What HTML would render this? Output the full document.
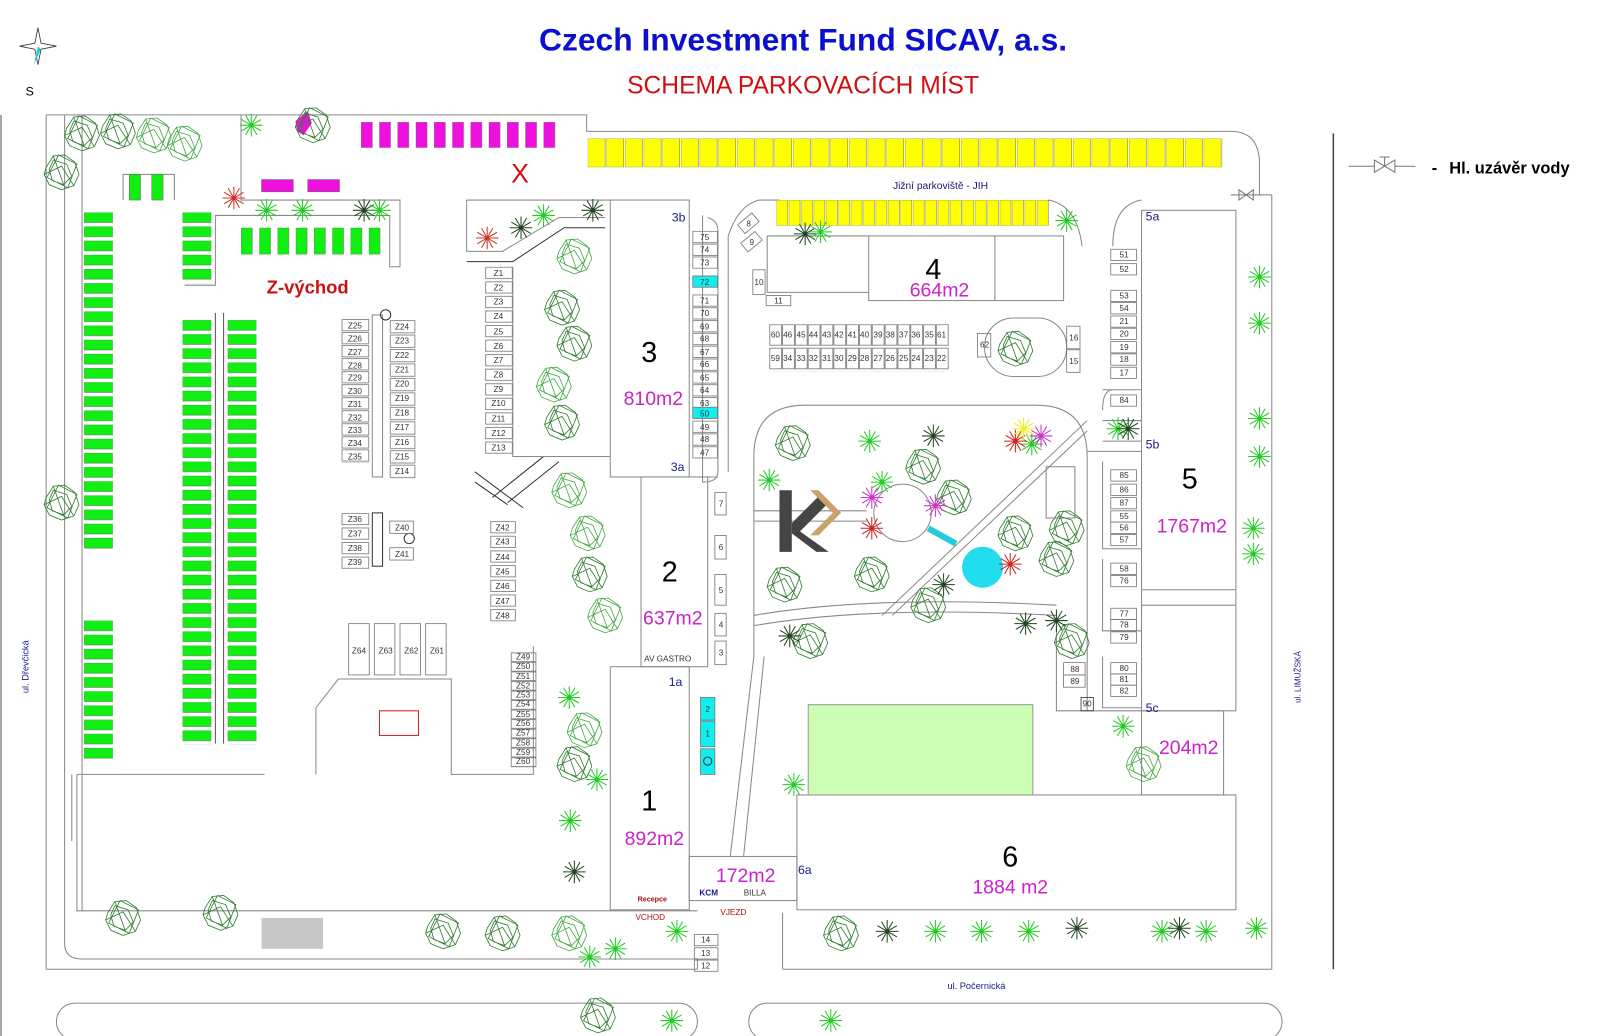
<!DOCTYPE html>
<html><head><meta charset="utf-8"><style>
html,body{margin:0;padding:0;background:#fff;}
svg{display:block;}
text{font-family:"Liberation Sans",sans-serif;}
.zl{font-size:28px;fill:#000;text-anchor:middle;}
.m2{font-size:19px;fill:#cc22cc;text-anchor:middle;}
.lb{font-size:12px;fill:#1a1a8c;}
</style></head><body>
<svg width="1600" height="1036" viewBox="0 0 1560 1010" xmlns="http://www.w3.org/2000/svg" xmlns:xlink="http://www.w3.org/1999/xlink">
<defs>
<pattern id="pgv" width="28" height="13.8" patternUnits="userSpaceOnUse"><rect x="0" y="0" width="28" height="10" fill="#11ee11" stroke="#666" stroke-width="0.5"/></pattern>
<pattern id="pgh" width="17.8" height="26" patternUnits="userSpaceOnUse"><rect x="0" y="0" width="11" height="26" fill="#11ee11" stroke="#666" stroke-width="0.5"/></pattern>
<pattern id="pm" width="17.8" height="25" patternUnits="userSpaceOnUse"><rect x="0" y="0" width="11" height="25" fill="#ee11dd" stroke="#666" stroke-width="0.5"/></pattern>
<pattern id="py1" width="18.2" height="28" patternUnits="userSpaceOnUse"><rect x="0" y="0" width="17" height="28" fill="#ffff00" stroke="#666" stroke-width="0.5"/></pattern>
<pattern id="py2" width="12.1" height="25" patternUnits="userSpaceOnUse"><rect x="0" y="0" width="11" height="25" fill="#ffff00" stroke="#666" stroke-width="0.5"/></pattern>
<pattern id="z142" width="27" height="14.2" patternUnits="userSpaceOnUse"><rect x="0.5" y="0.5" width="26" height="11" fill="none" stroke="#777" stroke-width="0.8"/></pattern>
<pattern id="z127" width="27" height="12.7" patternUnits="userSpaceOnUse"><rect x="0.5" y="0.5" width="26" height="11" fill="none" stroke="#777" stroke-width="0.8"/></pattern>
<pattern id="z141" width="25" height="14.1" patternUnits="userSpaceOnUse"><rect x="0.5" y="0.5" width="24" height="12" fill="none" stroke="#777" stroke-width="0.8"/></pattern>
<pattern id="z143" width="25" height="14.3" patternUnits="userSpaceOnUse"><rect x="0.5" y="0.5" width="24" height="11" fill="none" stroke="#777" stroke-width="0.8"/></pattern>
<pattern id="z93" width="25" height="9.3" patternUnits="userSpaceOnUse"><rect x="0.5" y="0.5" width="24" height="8.5" fill="none" stroke="#777" stroke-width="0.8"/></pattern>
<pattern id="zc" width="25" height="12.5" patternUnits="userSpaceOnUse"><rect x="0.5" y="0.5" width="24" height="11" fill="none" stroke="#777" stroke-width="0.8"/></pattern>
<pattern id="zr" width="12.5" height="23" patternUnits="userSpaceOnUse"><rect x="0.5" y="0.5" width="11.5" height="20" fill="none" stroke="#777" stroke-width="0.8"/></pattern>
<g id="T" fill="none" stroke-width="0.8"><path d="M-15-5L-8-16L3-17L13-10L17 2L12 13L0 17L-12 12L-17 2Z M-8-12L5-8L10 4L2 12L-9 8L-12-3Z M-3-17L-14 5L6 15L15-8Z M-17 2L0-6L12 13 M-8-16L2 12"/></g>
<g id="P" stroke-width="1"><path d="M-11 0H11M0-11V11M-9.5-5.5L9.5 5.5M-9.5 5.5L9.5-5.5M-5.5-9.5L5.5 9.5M-5.5 9.5L5.5-9.5"/></g>
</defs>
<rect width="1560" height="1010" fill="#fff"/>
<g fill="none" stroke="#888" stroke-width="1">
<line x1="1" y1="112" x2="1" y2="1010" stroke="#555"/>
<line x1="1300" y1="130" x2="1300" y2="945" stroke="#444" stroke-width="1.5"/>
<path d="M45 945 V112 H572 V128 H1200 Q1228 128 1228 160 V190 M1240 190 V945"/>
<path d="M63 112 V920 Q63 935 80 935 H680 V945"/>
<path d="M45 945 H680 M763 945 H1240 M763 945 V890"/>
<path d="M75 755 V888 H680 M70 755 V820 M75 755 H258"/>
<path d="M80 112 V888"/>
<rect x="55" y="978" width="625" height="36" rx="18"/>
<rect x="730" y="978" width="520" height="36" rx="18"/>
<path d="M235 112 V195 H390 V260 H380 V210 H210 V278 H180"/>
<path d="M120 195 V170 H170 V195"/>
<path d="M455 195 H595 M455 195 V245 H490 L545 212 H590"/>
<path d="M455 255 H500 L550 222 H590" stroke="#333"/>
<path d="M463 460 L510 495 M463 470 L495 492 M480 485 L530 445 M495 490 L545 450" stroke="#333"/>
<path d="M308 755 V690 L330 662 H440 V755 H520 V630"/>
<rect x="370" y="693" width="38" height="24" stroke="#c22"/>
<line x1="210" y1="305" x2="210" y2="725" stroke="#555"/>
<line x1="218" y1="305" x2="218" y2="725" stroke="#555"/>
<rect x="363" y="307" width="10" height="158"/>
<circle cx="376" cy="307" r="5" stroke="#333"/>
<rect x="363" y="500" width="10" height="52" stroke="#333"/>
<circle cx="399" cy="525" r="5" stroke="#333"/>
<path d="M500 260 V445 H595"/>
<rect x="595" y="195" width="77" height="270"/>
<rect x="625" y="465" width="65" height="185"/>
<rect x="595" y="650" width="77" height="237"/>
<rect x="672" y="835" width="105" height="43"/>
<rect x="777" y="775" width="428" height="112"/>
<rect x="1113" y="205" width="92" height="488"/>
<line x1="1113" y1="575" x2="1205" y2="575"/><line x1="1113" y1="590" x2="1205" y2="590"/>
<rect x="1113" y="693" width="80" height="82"/>
<rect x="847" y="230" width="190" height="63"/>
<line x1="970" y1="230" x2="970" y2="293"/>
<path d="M748 230 H847 M748 230 V285 H847"/>
<path d="M685 210 V470 Q700 470 700 460 V225 Q700 215 690 212"/>
<path d="M672 465 H700 M710 460 V230 Q720 200 740 195 H760 M1022 195 Q1050 200 1055 240"/>
<path d="M1113 195 Q1085 200 1085 240"/>
<rect x="960" y="310" width="80" height="57" rx="28"/>
<path d="M1075 380 H1113 M1075 400 Q1075 380 1085 380 M1075 410 H1113 M1075 430 H1113"/>
<path d="M1060 440 H1113 M1075 450 V535 H1113 M1075 545 V615 H1113 M1075 640 V690 H1113"/>
<path d="M735 640 V445 Q735 395 785 395 H1010 Q1060 395 1060 445 V640"/>
<path d="M735 610 Q850 590 1030 600 M735 600 Q850 580 1030 590"/>
<path d="M860 600 L1060 410 M870 600 L1060 420"/>
<path d="M735 498 H845 M735 508 H845"/>
<rect x="1020" y="455" width="28" height="50"/>
<circle cx="880" cy="500" r="28"/>
<path d="M1030 612 V693 H1113 M1060 640 V693"/>
<path d="M735 640 L712 835 M745 640 L725 835"/>
</g>
<rect x="788" y="687" width="219" height="88" fill="#ccffb3" stroke="#999"/>
<rect x="255" y="895" width="60" height="30" fill="#c8c8c8"/>
<circle cx="958" cy="553" r="20" fill="#22ddee"/>
<path d="M905 515 L932 530" stroke="#22ccdd" stroke-width="6"/>
<!-- parking -->
<rect transform="translate(82,207)" width="28" height="331" fill="url(#pgv)"/>
<rect transform="translate(82,605)" width="28" height="135" fill="url(#pgv)"/>
<rect transform="translate(178,207)" width="28" height="69" fill="url(#pgv)"/>
<rect transform="translate(178,312)" width="28" height="414" fill="url(#pgv)"/>
<rect transform="translate(222,312)" width="28" height="414" fill="url(#pgv)"/>
<rect x="126" y="170" width="11" height="25" fill="#11ee11" stroke="#666" stroke-width="0.5"/>
<rect x="148" y="170" width="11" height="25" fill="#11ee11" stroke="#666" stroke-width="0.5"/>
<rect transform="translate(235,222)" width="136" height="26" fill="url(#pgh)"/>
<rect transform="translate(352,119)" width="190" height="25" fill="url(#pm)"/>
<rect x="255" y="175" width="31" height="12" fill="#ee11dd" stroke="#666" stroke-width="0.5"/>
<rect x="300" y="175" width="31" height="12" fill="#ee11dd" stroke="#666" stroke-width="0.5"/>
<path d="M288 118 L300 108 L304 120 L296 132 L290 128 Z" fill="#ee11dd"/>
<rect transform="translate(573,135)" width="619" height="28" fill="url(#py1)"/>
<rect transform="translate(757,195)" width="266" height="25" fill="url(#py2)"/>
<!-- spot outlines -->
<rect transform="translate(473,260)" width="27" height="184" fill="url(#z142)"/>
<rect transform="translate(333,311)" width="27" height="140" fill="url(#z127)"/>
<rect transform="translate(380,312)" width="25" height="155" fill="url(#z141)"/>
<rect transform="translate(333,500)" width="27" height="56" fill="url(#z142)"/>
<rect transform="translate(478,508)" width="25" height="100" fill="url(#z143)"/>
<rect transform="translate(498,636)" width="25" height="112" fill="url(#z93)"/>
<rect transform="translate(675,225)" width="25" height="37" fill="url(#zc)"/>
<rect transform="translate(675,287)" width="25" height="112" fill="url(#zc)"/>
<rect transform="translate(675,410)" width="25" height="37" fill="url(#zc)"/>
<rect x="675.5" y="269" width="24" height="11" fill="#11eeee" stroke="#777" stroke-width="0.8"/>
<rect x="675.5" y="397" width="24" height="11" fill="#11eeee" stroke="#777" stroke-width="0.8"/>
<rect transform="translate(750,316)" width="175" height="46" fill="url(#zr)"/>
<g fill="none" stroke="#777" stroke-width="0.8">
<rect x="380" y="508" width="23" height="12"/><rect x="380" y="534" width="23" height="12"/>
<rect x="340" y="608" width="20" height="50"/><rect x="365" y="608" width="20" height="50"/><rect x="390" y="608" width="20" height="50"/><rect x="415" y="608" width="20" height="50"/>
<rect x="1083" y="243" width="25" height="11"/><rect x="1083" y="257" width="25" height="11"/><rect x="1083" y="283" width="25" height="11"/><rect x="1083" y="295" width="25" height="11"/><rect x="1083" y="308" width="25" height="11"/><rect x="1083" y="320" width="25" height="11"/><rect x="1083" y="333" width="25" height="11"/><rect x="1083" y="345" width="25" height="11"/><rect x="1083" y="358" width="25" height="11"/><rect x="1083" y="385" width="25" height="11"/>
<rect x="1083" y="458" width="25" height="11"/><rect x="1083" y="472" width="25" height="11"/><rect x="1083" y="485" width="25" height="11"/><rect x="1083" y="498" width="25" height="11"/><rect x="1083" y="509" width="25" height="11"/><rect x="1083" y="521" width="25" height="11"/><rect x="1083" y="549" width="25" height="11"/><rect x="1083" y="561" width="25" height="11"/><rect x="1083" y="593" width="25" height="11"/><rect x="1083" y="604" width="25" height="11"/><rect x="1083" y="616" width="25" height="11"/><rect x="1083" y="646" width="25" height="11"/><rect x="1083" y="657" width="25" height="11"/><rect x="1083" y="668" width="25" height="11"/>
<rect x="1040" y="318" width="13" height="22"/><rect x="1040" y="341" width="13" height="22"/><rect x="953" y="325" width="13" height="23"/>
<rect x="1037" y="646" width="21" height="12"/><rect x="1037" y="658" width="21" height="12"/><rect x="1054" y="680" width="12" height="13" stroke="#333"/>
<rect x="734" y="263" width="12" height="24"/><rect x="747" y="288" width="24" height="10"/>
<rect x="721" y="212" width="18" height="11" transform="rotate(-40 730 218)"/>
<rect x="724" y="230" width="18" height="11" transform="rotate(-40 733 236)"/>
<rect x="697" y="480" width="11" height="22"/><rect x="697" y="522" width="11" height="23"/><rect x="697" y="560" width="11" height="30"/><rect x="697" y="598" width="11" height="22"/><rect x="697" y="625" width="11" height="23"/>
<rect x="677" y="911" width="23" height="11"/><rect x="677" y="924" width="23" height="11"/><rect x="677" y="936" width="23" height="11"/>
</g>
<rect x="683" y="680" width="14" height="22" fill="#11eeee" stroke="#777" stroke-width="0.8"/>
<rect x="683" y="703" width="14" height="25" fill="#11eeee" stroke="#777" stroke-width="0.8"/>
<rect x="683" y="730" width="14" height="25" fill="#11eeee" stroke="#777" stroke-width="0.8"/>
<circle cx="690" cy="742" r="4" fill="none" stroke="#333"/>
<!-- trees -->
<g stroke="#2e7d2e">
<use href="#T" x="80" y="130"/><use href="#T" x="115" y="128"/><use href="#T" x="150" y="132" stroke="#44aa44"/><use href="#T" x="180" y="140" stroke="#44aa44"/><use href="#T" x="60" y="168"/><use href="#T" x="305" y="122"/>
<use href="#T" x="560" y="250" stroke="#44aa44"/><use href="#T" x="548" y="300"/><use href="#T" x="560" y="335"/><use href="#T" x="540" y="375" stroke="#44aa44"/><use href="#T" x="548" y="412"/><use href="#T" x="555" y="478" stroke="#44aa44"/><use href="#T" x="573" y="520" stroke="#44aa44"/><use href="#T" x="575" y="560"/><use href="#T" x="590" y="600" stroke="#44aa44"/><use href="#T" x="60" y="490"/>
<use href="#T" x="773" y="432"/><use href="#T" x="900" y="455"/><use href="#T" x="930" y="485"/><use href="#T" x="1040" y="515"/><use href="#T" x="1030" y="545"/><use href="#T" x="990" y="520"/><use href="#T" x="765" y="570"/><use href="#T" x="850" y="560"/><use href="#T" x="905" y="590"/><use href="#T" x="790" y="625"/><use href="#T" x="990" y="340"/><use href="#T" x="1115" y="745" stroke="#44aa44"/><use href="#T" x="1045" y="625"/>
<use href="#T" x="120" y="895"/><use href="#T" x="215" y="890"/><use href="#T" x="432" y="908"/><use href="#T" x="490" y="910"/><use href="#T" x="555" y="910" stroke="#44aa44"/><use href="#T" x="820" y="910"/><use href="#T" x="583" y="990"/><use href="#T" x="570" y="712" stroke="#44aa44"/><use href="#T" x="560" y="745"/>
</g>
<g stroke="#22cc22">
<use href="#P" x="245" y="122"/><use href="#P" x="260" y="205"/><use href="#P" x="295" y="205"/><use href="#P" x="355" y="205" stroke="#224422"/><use href="#P" x="370" y="205"/><use href="#P" x="508" y="222" stroke="#224422"/><use href="#P" x="530" y="210"/><use href="#P" x="578" y="205" stroke="#224422"/><use href="#P" x="785" y="228" stroke="#224422"/><use href="#P" x="800" y="226"/><use href="#P" x="1040" y="215"/>
<use href="#P" x="1228" y="270"/><use href="#P" x="1228" y="315"/><use href="#P" x="1228" y="408"/><use href="#P" x="1228" y="445"/><use href="#P" x="1222" y="515"/><use href="#P" x="1222" y="540"/>
<use href="#P" x="555" y="680"/><use href="#P" x="556" y="800"/><use href="#P" x="560" y="850" stroke="#224422"/><use href="#P" x="582" y="760"/><use href="#P" x="774" y="765"/><use href="#P" x="848" y="430"/><use href="#P" x="910" y="425" stroke="#224422"/><use href="#P" x="860" y="470"/><use href="#P" x="750" y="468"/>
<use href="#P" x="660" y="908"/><use href="#P" x="865" y="908" stroke="#224422"/><use href="#P" x="912" y="908"/><use href="#P" x="957" y="908"/><use href="#P" x="1003" y="908"/><use href="#P" x="1050" y="905" stroke="#224422"/><use href="#P" x="1133" y="908"/><use href="#P" x="1150" y="905" stroke="#224422"/><use href="#P" x="1176" y="908"/><use href="#P" x="1225" y="905"/>
<use href="#P" x="600" y="925"/><use href="#P" x="575" y="933"/><use href="#P" x="655" y="995"/><use href="#P" x="810" y="995"/><use href="#P" x="1095" y="708"/><use href="#P" x="1006" y="433"/><use href="#P" x="1000" y="608" stroke="#224422"/><use href="#P" x="1030" y="605" stroke="#224422"/><use href="#P" x="920" y="570" stroke="#224422"/><use href="#P" x="770" y="620" stroke="#224422"/><use href="#P" x="1090" y="418"/><use href="#P" x="1100" y="418" stroke="#224422"/>
<use href="#P" x="475" y="232" stroke="#cc3322"/><use href="#P" x="228" y="193" stroke="#cc3322"/><use href="#P" x="990" y="430" stroke="#cc2222"/><use href="#P" x="1015" y="425" stroke="#cc33cc"/><use href="#P" x="998" y="418" stroke="#eeee22"/><use href="#P" x="850" y="515" stroke="#cc2222"/><use href="#P" x="912" y="493" stroke="#cc33cc"/><use href="#P" x="985" y="550" stroke="#cc2222"/><use href="#P" x="850" y="485" stroke="#cc33cc"/>
</g>
<!-- logo -->
<path d="M760 478 H772 V538 H760 Z" fill="#444"/>
<path d="M772 510 L800 482 L808 490 L780 518 L808 538 L796 538 L772 520 Z" fill="#444"/>
<path d="M790 478 L812 500 L790 522 L798 522 L820 500 L798 478 Z" fill="#c9a26a"/>
<!-- compass -->
<g transform="translate(37,45)">
<path d="M0 -18 L3 -3 L18 0 L3 3 L0 18 L-3 3 L-18 0 L-3 -3 Z" fill="#fff" stroke="#333" stroke-width="0.8"/>
<path d="M0 0 L-4 18 L3 3 Z" fill="#22ccdd"/>
</g>
<text x="25" y="93" font-size="12">S</text>
<text x="783" y="49" font-size="31" font-weight="bold" fill="#0b10d0" text-anchor="middle">Czech Investment Fund SICAV, a.s.</text>
<text x="783" y="91" font-size="24" fill="#d01010" text-anchor="middle">SCHEMA PARKOVACÍCH MÍST</text>
<g stroke="#777" fill="none" stroke-width="1">
<path d="M1315 162 H1340 M1360 162 H1380 M1340 156 V168 L1360 156 V168 Z M1350 162 V153 M1345 153 H1355"/>
<path d="M1200 190 H1240 M1208 185 V195 L1222 185 V195 Z"/>
</g>
<text x="1396" y="169" font-size="16" font-weight="bold">-</text>
<text x="1413" y="169" font-size="16" font-weight="bold">Hl. uzávěr vody</text>
<text x="507" y="178" font-size="26" fill="#d01010" text-anchor="middle">X</text>
<text x="917" y="184" font-size="10" fill="#1a1a6c" text-anchor="middle">Jižní parkoviště - JIH</text>
<text x="300" y="286" font-size="18" font-weight="bold" fill="#cc1111" text-anchor="middle">Z-východ</text>
<text class="zl" x="633" y="353">3</text><text class="m2" x="637" y="395">810m2</text>
<text class="zl" x="653" y="567">2</text><text class="m2" x="656" y="609">637m2</text>
<text class="zl" x="633" y="790">1</text><text class="m2" x="638" y="824">892m2</text>
<text class="zl" x="910" y="272">4</text><text class="m2" x="916" y="289">664m2</text>
<text class="zl" x="1160" y="476">5</text><text class="m2" x="1162" y="519">1767m2</text>
<text class="zl" x="985" y="845">6</text><text class="m2" x="985" y="871">1884 m2</text>
<text class="m2" x="727" y="860">172m2</text>
<text class="m2" x="1159" y="735">204m2</text>
<text class="lb" x="655" y="216">3b</text><text class="lb" x="654" y="459">3a</text>
<text class="lb" x="652" y="669">1a</text><text class="lb" x="1117" y="215">5a</text>
<text class="lb" x="1117" y="437">5b</text><text class="lb" x="1117" y="694">5c</text>
<text class="lb" x="778" y="852">6a</text>
<text x="651" y="645" font-size="8" fill="#333" text-anchor="middle">AV GASTRO</text>
<text x="636" y="879" font-size="7" fill="#b01010" font-weight="bold" text-anchor="middle">Recepce</text>
<text x="634" y="897" font-size="8" fill="#b01010" text-anchor="middle">VCHOD</text>
<text x="715" y="892" font-size="8" fill="#b01010" text-anchor="middle">VJEZD</text>
<text x="691" y="873" font-size="8" fill="#1a1a8c" font-weight="bold" text-anchor="middle">KCM</text>
<text x="736" y="873" font-size="8" fill="#333" text-anchor="middle">BILLA</text>
<text x="952" y="964" font-size="9" fill="#1a1a8c" text-anchor="middle">ul. Počernická</text>
<text transform="translate(28,650) rotate(-90)" font-size="9" fill="#1a1a8c" text-anchor="middle">ul. Dřevčická</text>
<text transform="translate(1268,660) rotate(-90)" font-size="8" fill="#1a1a8c" text-anchor="middle">ul. LIMUŽSKÁ</text>
<g font-size="8" fill="#333" text-anchor="middle">
<text x="486" y="269">Z1</text><text x="486" y="283">Z2</text><text x="486" y="297">Z3</text><text x="486" y="311">Z4</text><text x="486" y="326">Z5</text><text x="486" y="340">Z6</text><text x="486" y="354">Z7</text><text x="486" y="368">Z8</text><text x="486" y="382">Z9</text><text x="486" y="396">Z10</text><text x="486" y="411">Z11</text><text x="486" y="425">Z12</text><text x="486" y="439">Z13</text>
<text x="346" y="320">Z25</text><text x="346" y="333">Z26</text><text x="346" y="346">Z27</text><text x="346" y="359">Z28</text><text x="346" y="371">Z29</text><text x="346" y="384">Z30</text><text x="346" y="397">Z31</text><text x="346" y="410">Z32</text><text x="346" y="422">Z33</text><text x="346" y="435">Z34</text><text x="346" y="448">Z35</text>
<text x="392" y="321">Z24</text><text x="392" y="335">Z23</text><text x="392" y="349">Z22</text><text x="392" y="363">Z21</text><text x="392" y="377">Z20</text><text x="392" y="391">Z19</text><text x="392" y="405">Z18</text><text x="392" y="419">Z17</text><text x="392" y="434">Z16</text><text x="392" y="448">Z15</text><text x="392" y="462">Z14</text>
<text x="346" y="509">Z36</text><text x="346" y="523">Z37</text><text x="346" y="537">Z38</text><text x="346" y="551">Z39</text>
<text x="392" y="517">Z40</text><text x="392" y="543">Z41</text>
<text x="490" y="517">Z42</text><text x="490" y="531">Z43</text><text x="490" y="546">Z44</text><text x="490" y="560">Z45</text><text x="490" y="574">Z46</text><text x="490" y="589">Z47</text><text x="490" y="603">Z48</text>
<text x="510" y="643">Z49</text><text x="510" y="652">Z50</text><text x="510" y="662">Z51</text><text x="510" y="671">Z52</text><text x="510" y="680">Z53</text><text x="510" y="689">Z54</text><text x="510" y="699">Z55</text><text x="510" y="708">Z56</text><text x="510" y="717">Z57</text><text x="510" y="727">Z58</text><text x="510" y="736">Z59</text><text x="510" y="745">Z60</text>
<text x="350" y="637">Z64</text><text x="376" y="637">Z63</text><text x="401" y="637">Z62</text><text x="426" y="637">Z61</text>
<text x="687" y="234">75</text><text x="687" y="246">74</text><text x="687" y="259">73</text><text x="687" y="278">72</text><text x="687" y="296">71</text><text x="687" y="308">70</text><text x="687" y="321">69</text><text x="687" y="333">68</text><text x="687" y="346">67</text><text x="687" y="358">66</text><text x="687" y="371">65</text><text x="687" y="383">64</text><text x="687" y="396">63</text><text x="687" y="406">50</text><text x="687" y="419">49</text><text x="687" y="431">48</text><text x="687" y="444">47</text>
<text x="756" y="329">60</text><text x="768" y="329">46</text><text x="781" y="329">45</text><text x="793" y="329">44</text><text x="806" y="329">43</text><text x="818" y="329">42</text><text x="831" y="329">41</text><text x="843" y="329">40</text><text x="856" y="329">39</text><text x="868" y="329">38</text><text x="881" y="329">37</text><text x="893" y="329">36</text><text x="906" y="329">35</text><text x="918" y="329">61</text>
<text x="756" y="352">59</text><text x="768" y="352">34</text><text x="781" y="352">33</text><text x="793" y="352">32</text><text x="806" y="352">31</text><text x="818" y="352">30</text><text x="831" y="352">29</text><text x="843" y="352">28</text><text x="856" y="352">27</text><text x="868" y="352">26</text><text x="881" y="352">25</text><text x="893" y="352">24</text><text x="906" y="352">23</text><text x="918" y="352">22</text>
<text x="1096" y="251">51</text><text x="1096" y="265">52</text><text x="1096" y="291">53</text><text x="1096" y="303">54</text><text x="1096" y="316">21</text><text x="1096" y="328">20</text><text x="1096" y="341">19</text><text x="1096" y="353">18</text><text x="1096" y="366">17</text><text x="1096" y="393">84</text>
<text x="1096" y="466">85</text><text x="1096" y="480">86</text><text x="1096" y="493">87</text><text x="1096" y="506">55</text><text x="1096" y="517">56</text><text x="1096" y="529">57</text><text x="1096" y="557">58</text><text x="1096" y="569">76</text><text x="1096" y="601">77</text><text x="1096" y="612">78</text><text x="1096" y="624">79</text><text x="1096" y="654">80</text><text x="1096" y="665">81</text><text x="1096" y="676">82</text>
<text x="1047" y="332">16</text><text x="1047" y="355">15</text><text x="960" y="339">62</text>
<text x="1048" y="655">88</text><text x="1048" y="667">89</text><text x="1060" y="689">90</text>
<text x="730" y="221">8</text><text x="733" y="239">9</text><text x="740" y="278">10</text><text x="759" y="296">11</text>
<text x="703" y="494">7</text><text x="703" y="536">6</text><text x="703" y="578">5</text><text x="703" y="612">4</text><text x="703" y="639">3</text>
<text x="690" y="694">2</text><text x="690" y="718">1</text>
<text x="688" y="919">14</text><text x="688" y="932">13</text><text x="688" y="944">12</text>
</g>
</svg>
</body></html>
